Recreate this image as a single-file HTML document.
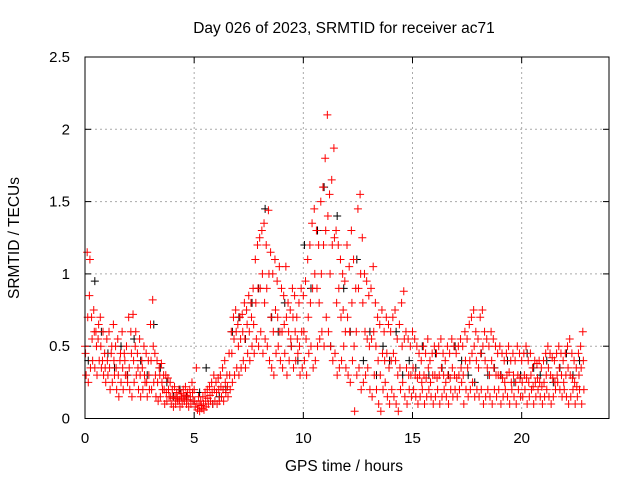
<!DOCTYPE html>
<html><head><meta charset="utf-8"><style>
body{margin:0;background:#fff}
svg{display:block;font-family:"Liberation Sans",sans-serif}
</style></head><body>
<svg id="c" width="640" height="480">
<rect width="640" height="480" fill="#fff"/>
<text x="344" y="33" font-size="15.5" text-anchor="middle">Day 026 of 2023, SRMTID for receiver ac71</text>
<text x="344" y="471" font-size="15.5" text-anchor="middle">GPS time / hours</text>
<text transform="translate(19,238) rotate(-90)" font-size="15.5" text-anchor="middle">SRMTID / TECUs</text>
<g id="grid"></g><g id="marks"></g>
<rect x="85" y="57" width="524" height="361.5" fill="none" stroke="#000"/>
</svg>
<script>
const xTicks=[0,5,10,15,20];
const yTicks=[0,0.5,1,1.5,2,2.5];
const yTickLabels=["0","0.5","1","1.5","2","2.5"];
const redA=[0.5,1.15,0.85,0.7,0.75,0.6,0.55,0.7,0.4,0.45,0.55,0.6,0.45,0.65,0.5,0.55,0.4,0.6,0.45,0.5,0.7,0.6,0.72,0.5,0.45,0.55,0.4,0.5,0.45,0.4,0.65,0.82,0.45,0.4,0.35,0.38,0.3,0.3,0.28,0.25,0.2,0.22,0.18,0.2,0.17,0.2,0.22,0.18,0.2,0.25,0.2,0.35,0.15,0.12,0.15,0.18,0.2,0.22,0.25,0.3,0.25,0.28,0.3,0.35,0.4,0.3,0.45,0.6,0.7,0.75,0.65,0.7,0.72,0.8,0.75,0.85,0.8,0.9,1.1,1.2,1.25,1.3,1.35,1.2,1.44,1.15,1.0,1.1,0.95,1.05,0.9,0.85,1.05,0.8,0.75,0.9,0.85,0.7,0.8,0.9,0.85,0.95,1.1,1.2,1.35,1.45,1.3,1.2,1.5,1.6,1.8,2.1,1.55,1.65,1.87,1.3,1.2,1.1,1.0,0.95,1.2,1.05,1.3,1.1,0.9,1.45,1.55,1.25,1.0,0.95,0.85,0.9,1.05,0.8,0.7,0.65,0.75,0.6,0.7,0.65,0.6,0.7,0.75,0.55,0.65,0.8,0.88,0.6,0.55,0.5,0.6,0.55,0.5,0.45,0.4,0.5,0.45,0.55,0.4,0.45,0.5,0.45,0.5,0.55,0.45,0.4,0.5,0.45,0.55,0.5,0.45,0.5,0.55,0.5,0.6,0.55,0.65,0.7,0.75,0.6,0.55,0.7,0.75,0.6,0.55,0.5,0.6,0.55,0.5,0.45,0.5,0.45,0.4,0.45,0.5,0.4,0.45,0.4,0.5,0.45,0.4,0.45,0.5,0.4,0.45,0.35,0.4,0.38,0.4,0.35,0.4,0.45,0.5,0.45,0.42,0.4,0.45,0.5,0.45,0.4,0.45,0.5,0.55,0.45,0.4,0.35,0.45,0.5,0.6];
const redB=[0.3,0.25,0.35,0.4,0.35,0.3,0.4,0.35,0.3,0.25,0.3,0.2,0.25,0.3,0.2,0.15,0.25,0.2,0.3,0.25,0.2,0.15,0.25,0.3,0.2,0.15,0.2,0.25,0.15,0.2,0.2,0.25,0.15,0.12,0.15,0.2,0.1,0.12,0.15,0.1,0.08,0.1,0.12,0.08,0.1,0.12,0.1,0.08,0.1,0.12,0.08,0.06,0.05,0.07,0.06,0.08,0.1,0.12,0.1,0.12,0.1,0.12,0.15,0.12,0.18,0.15,0.2,0.25,0.3,0.35,0.3,0.35,0.4,0.35,0.45,0.4,0.5,0.45,0.55,0.5,0.6,0.45,0.55,0.5,0.4,0.35,0.3,0.45,0.5,0.4,0.35,0.45,0.3,0.4,0.5,0.35,0.4,0.45,0.3,0.35,0.4,0.3,0.45,0.5,0.35,0.4,0.5,0.55,0.6,0.5,0.7,0.6,0.5,0.4,0.45,0.3,0.35,0.4,0.5,0.35,0.3,0.25,0.4,0.05,0.3,0.35,0.2,0.25,0.3,0.35,0.2,0.15,0.3,0.2,0.1,0.05,0.2,0.25,0.15,0.1,0.2,0.15,0.1,0.05,0.2,0.25,0.15,0.1,0.2,0.15,0.2,0.15,0.1,0.15,0.2,0.1,0.15,0.2,0.15,0.1,0.15,0.2,0.1,0.15,0.2,0.15,0.1,0.2,0.15,0.2,0.15,0.2,0.25,0.1,0.2,0.15,0.2,0.25,0.15,0.2,0.15,0.2,0.1,0.15,0.2,0.15,0.1,0.2,0.15,0.2,0.1,0.15,0.2,0.15,0.1,0.2,0.15,0.1,0.2,0.15,0.15,0.2,0.1,0.15,0.2,0.1,0.15,0.2,0.15,0.1,0.15,0.2,0.15,0.1,0.15,0.2,0.25,0.2,0.15,0.2,0.15,0.1,0.15,0.2,0.1,0.15,0.2,0.1,0.2];
const redC=[0.45,0.7,1.1,0.55,0.6,0.5,0.65,0.5,0.6,0.35,0.4,0.35,0.5,0.4,0.35,0.3,0.45,0.35,0.4,0.3,0.35,0.45,0.4,0.6,0.35,0.3,0.35,0.3,0.25,0.3,0.4,0.5,0.3,0.25,0.3,0.25,0.2,0.18,0.2,0.15,0.14,0.15,0.14,0.13,0.15,0.14,0.16,0.13,0.15,0.18,0.12,0.1,0.1,0.09,0.1,0.12,0.14,0.16,0.18,0.2,0.18,0.2,0.22,0.2,0.25,0.22,0.3,0.45,0.55,0.6,0.5,0.55,0.6,0.55,0.65,0.6,0.7,0.65,0.8,0.9,0.9,1.0,0.8,0.9,1.0,0.7,0.6,0.75,0.7,0.6,0.6,0.65,0.7,0.6,0.55,0.7,0.6,0.55,0.5,0.6,0.6,0.55,0.7,0.8,0.9,1.0,0.9,0.8,1.0,1.2,1.3,1.4,1.0,1.2,1.25,0.8,0.9,0.7,0.75,0.6,0.7,0.6,0.8,0.5,0.6,0.9,1.0,0.8,0.6,0.55,0.5,0.55,0.6,0.5,0.4,0.3,0.45,0.4,0.45,0.35,0.4,0.45,0.4,0.3,0.35,0.5,0.55,0.35,0.3,0.3,0.35,0.3,0.28,0.3,0.25,0.3,0.28,0.35,0.25,0.3,0.3,0.28,0.3,0.35,0.3,0.25,0.3,0.28,0.35,0.3,0.28,0.3,0.35,0.3,0.4,0.35,0.4,0.45,0.5,0.4,0.35,0.45,0.5,0.4,0.35,0.3,0.4,0.35,0.3,0.3,0.3,0.28,0.25,0.3,0.32,0.25,0.3,0.25,0.3,0.28,0.25,0.3,0.28,0.25,0.3,0.22,0.25,0.28,0.25,0.22,0.25,0.3,0.35,0.3,0.28,0.25,0.3,0.35,0.3,0.25,0.3,0.35,0.3,0.28,0.25,0.22,0.3,0.35,0.4];
const black=[0.4,0.95,0.6,0.45,0.35,0.5,0.3,0.55,0.4,0.3,0.65,0.35,0.25,0.15,0.2,0.15,0.12,0.18,0.35,0.1,0.15,0.2,0.6,0.7,0.55,0.8,0.9,1.45,0.7,0.6,0.8,0.5,0.4,1.2,0.9,1.3,1.6,0.5,1.4,0.9,0.6,1.1,0.4,0.6,0.3,0.5,0.4,0.6,0.3,0.4,0.35,0.5,0.3,0.45,0.35,0.3,0.5,0.4,0.3,0.25,0.45,0.3,0.35,0.3,0.4,0.25,0.3,0.45,0.35,0.3,0.4,0.25,0.35,0.45,0.3,0.4];
const stepRed=0.1, stepBlack=0.3;
const X=t=>85+t*(524/24);
const Y=v=>418.5-v*(361.5/2.5);
const NS="http://www.w3.org/2000/svg";
const grid=document.getElementById('grid'),marks=document.getElementById('marks');
function mk(tag,attrs,parent){const e=document.createElementNS(NS,tag);for(const k in attrs)e.setAttribute(k,attrs[k]);parent.appendChild(e);return e;}
xTicks.forEach(t=>{
 if(t>0){const l=mk('line',{x1:X(t),x2:X(t),y1:57,y2:418.5,stroke:'#aaa','stroke-dasharray':'2,3'},grid);
 
 }
 const tx=mk('text',{x:X(t),y:443,'font-size':15,'text-anchor':'middle'},grid);tx.textContent=t;
 
 
 mk('line',{x1:X(t),x2:X(t),y1:418.5,y2:412,stroke:'#000'},grid);
 mk('line',{x1:X(t),x2:X(t),y1:57,y2:63,stroke:'#000'},grid);
});
yTicks.forEach((v,i)=>{
 if(v>0&&v<2.5){const l=mk('line',{x1:85,x2:609,y1:Y(v),y2:Y(v),stroke:'#aaa','stroke-dasharray':'2,3'},grid);
 
 }
 const tx=mk('text',{x:70,y:Y(v)+5,'font-size':15,'text-anchor':'end'},grid);tx.textContent=yTickLabels[i];
 
 
 mk('line',{x1:85,x2:91,y1:Y(v),y2:Y(v),stroke:'#000'},grid);
 mk('line',{x1:603,x2:609,y1:Y(v),y2:Y(v),stroke:'#000'},grid);
});
function cross(t,v,col,name){
 const x=X(t),y=Y(v);
 const p=mk('path',{d:`M${x-4},${y}h8M${x},${y-4}v8`,stroke:col,'stroke-width':1,fill:'none'},marks);
 
 
}
black.forEach((v,i)=>cross(i*stepBlack+0.15,v,'#000','black-point'));
redA.forEach((v,i)=>cross(i*stepRed,v,'#f00','red-point'));
redB.forEach((v,i)=>cross(i*stepRed+0.05,v,'#f00','red-point'));
redC.forEach((v,i)=>cross(i*stepRed+0.025,v,'#f00','red-point'));
</script>
</body></html>
